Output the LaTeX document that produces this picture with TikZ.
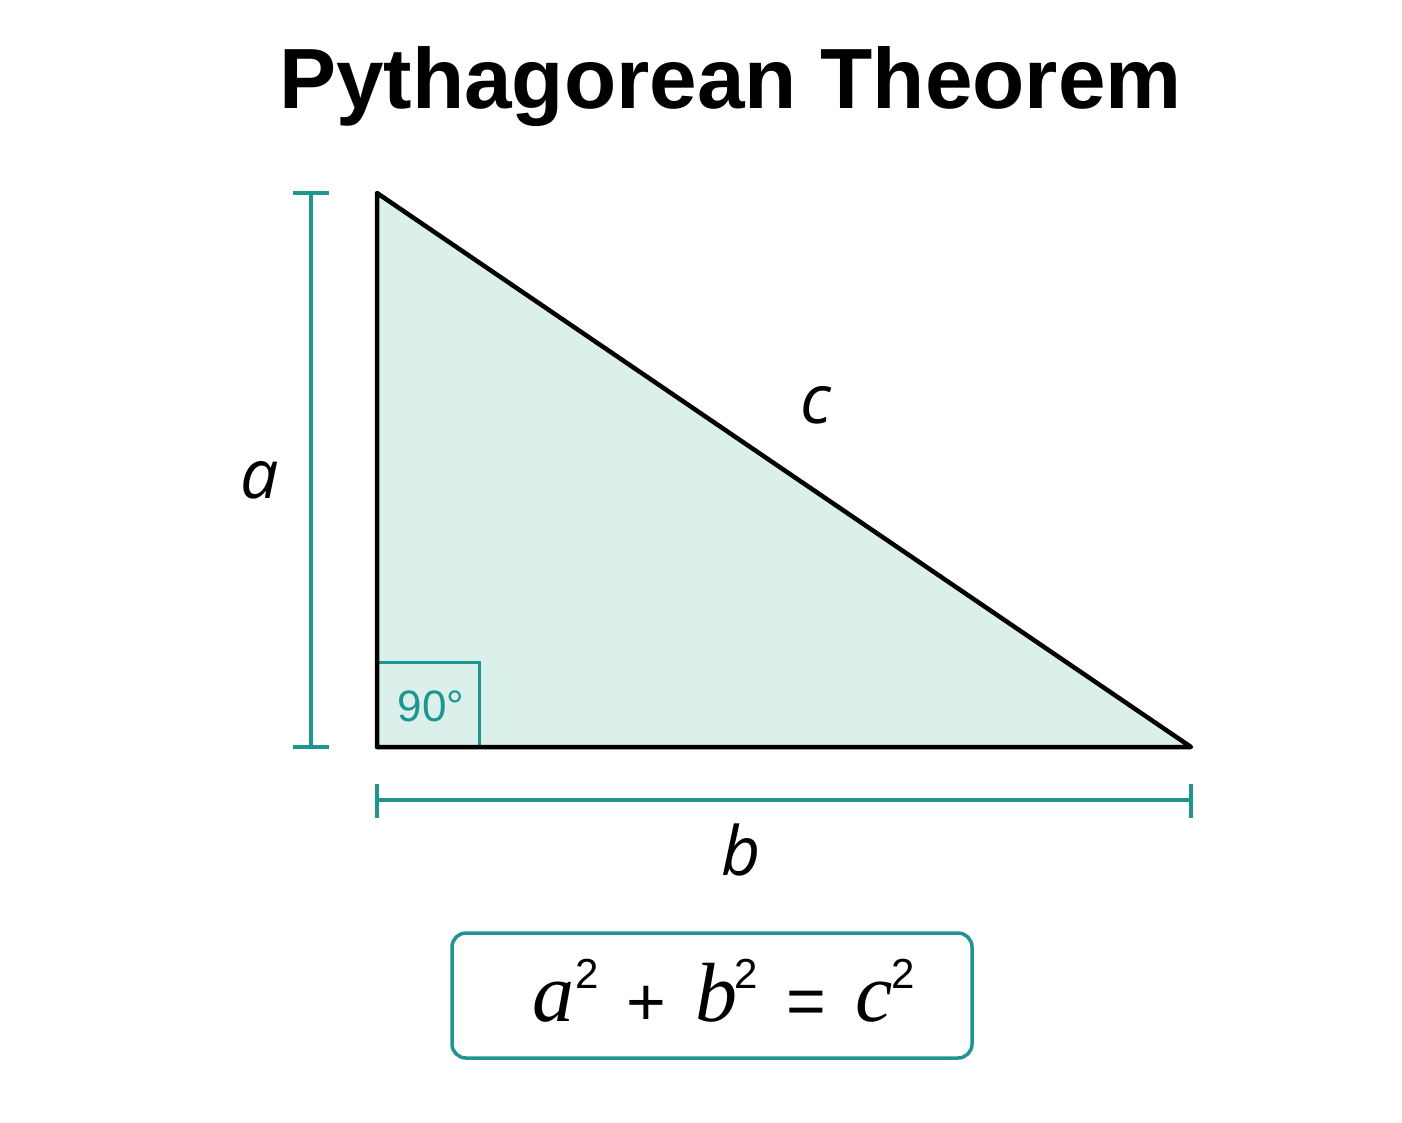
\documentclass[tikz,border=0pt]{standalone}
\usepackage{fontspec}
\setmainfont{Liberation Sans}
\newfontfamily\labfont{Open Sans}
\newfontfamily\serfont{Liberation Serif}
\newfontfamily\sansf{Liberation Sans}
\definecolor{teal1}{HTML}{1E9690}
\definecolor{fillt}{HTML}{DCF0EB}
\newcommand{\supf}{\sansf\upshape\fontsize{42}{44}\selectfont}
\newcommand{\opf}{\sansf\upshape\fontsize{68}{72}\selectfont}
\begin{document}
\begin{tikzpicture}[x=1pt,y=-1pt,
  tri/.style={draw=black,line width=4.5pt,line join=round,fill=fillt},
  dimline/.style={draw=teal1,line width=3.5pt},
  rabox/.style={draw=teal1,line width=3pt},
  sidelabel/.style={font=\labfont\itshape\fontsize{68}{74}\selectfont,inner sep=0pt,anchor=base},
  fbox/.style={draw=teal1,line width=3.5pt,rounded corners=14pt}]
\fill[white] (0,0) rectangle (1402,1122);
\useasboundingbox (0,0) rectangle (1402,1122);
% title
\node[anchor=base,inner sep=0pt,font=\bfseries\fontsize{85.5}{96}\selectfont] (title) at (730.5,108) {Pythagorean Theorem};
% vertices
\coordinate (A) at (377,193);
\coordinate (B) at (377,747);
\coordinate (C) at (1191,747);
\fill[fillt] (A) -- (B) -- (C) -- cycle;
% right angle box
\coordinate (R1) at (377,662);
\coordinate (R2) at (479,662);
\coordinate (R3) at (479,747);
\draw[rabox] (R1) -- (R2) -- (R3);
\node[anchor=base,inner sep=0pt,text=teal1,font=\sansf\fontsize{44}{48}\selectfont] (ang) at (431,721) {90°};
\draw[tri,fill=none] (A) -- (B) -- (C) -- cycle;
% left dimension
\coordinate (LT) at (311,193);
\coordinate (LB) at (311,747);
\coordinate (LT1) at (293,193);
\coordinate (LT2) at (329,193);
\coordinate (LB1) at (293,747);
\coordinate (LB2) at (329,747);
\draw[dimline] (LT) -- (LB);
\draw[dimline] (LT1) -- (LT2);
\draw[dimline] (LB1) -- (LB2);
% bottom dimension
\coordinate (BL) at (377,800);
\coordinate (BR) at (1191,800);
\coordinate (BL1) at (377,784);
\coordinate (BL2) at (377,818);
\coordinate (BR1) at (1191,784);
\coordinate (BR2) at (1191,818);
\draw[dimline] (BL) -- (BR);
\draw[dimline] (BL1) -- (BL2);
\draw[dimline] (BR1) -- (BR2);
% labels
\node[sidelabel] (la) at (260,498) {a};
\node[sidelabel] (lc) at (816,423) {c};
\node[sidelabel] (lb) at (741,875) {b};
% formula box
\draw[fbox] (452,933) rectangle (972,1058);
\node[anchor=base west,inner sep=0pt] (formula) at (532.6,1021) {\serfont\itshape\fontsize{84}{90}\selectfont
\rlap{a}%
\rlap{\hspace*{43pt}\raisebox{33pt}{\supf 2}}%
\rlap{\hspace*{93.5pt}\raisebox{-4pt}{\opf +}}%
\rlap{\hspace*{162.4pt}b}%
\rlap{\hspace*{202pt}\raisebox{33pt}{\supf 2}}%
\rlap{\hspace*{254pt}\raisebox{-3pt}{\opf =}}%
\rlap{\hspace*{322.4pt}c}%
\rlap{\hspace*{359pt}\raisebox{33pt}{\supf 2}}%
\hspace*{380pt}};
\end{tikzpicture}
\end{document}
